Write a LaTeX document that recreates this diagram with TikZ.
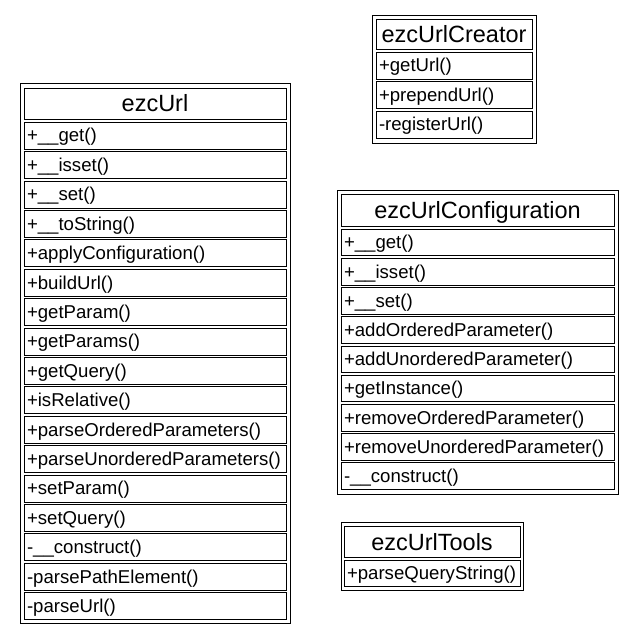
\documentclass[tikz,border=0pt]{standalone}
\usepackage{fontspec}
\setmainfont{Liberation Sans}
\begin{document}
\begin{tikzpicture}[x=1pt, y=-1pt]
\tikzset{ inner sep=0pt, outer sep=0pt, line width=1.2pt,
  outline/.style={draw, anchor=north west},
  classname/.style={draw, anchor=north west, text width=#1, align=center, inner xsep=3pt,
    minimum height=31pt, text height=21pt, text depth=4pt, font=\fontsize{23.5}{26}\selectfont},
  member/.style={draw, anchor=north west, text width=#1, align=left, inner xsep=3pt,
    minimum height=27pt, text height=17pt, text depth=4pt, font=\fontsize{18.6}{21}\selectfont},
}
\useasboundingbox (0,0) rectangle (634,636);

%% ezcUrl
\node [outline, minimum width=270pt, minimum height=540pt] (Uo) at (20,83) {};
\node [classname=256pt] (U) at (24,88) {ezcUrl};
\foreach \m [count=\i from 0] in {+\_\_get(), +\_\_isset(), +\_\_set(), +\_\_toString(),
  +applyConfiguration(), +buildUrl(), +getParam(), +getParams(), +getQuery(),
  +isRelative(), +parseOrderedParameters(), +parseUnorderedParameters(),
  +setParam(), +setQuery(), -\_\_construct(), -parsePathElement(), -parseUrl()}
  \node [member=256pt] (U\i) at (24,{122+29.4*\i}) {\m};

%% ezcUrlCreator
\node [outline, minimum width=164pt, minimum height=128pt] (Co) at (372,15) {};
\node [classname=150pt, minimum height=30pt] (C) at (376,19) {ezcUrlCreator};
\foreach \m [count=\i from 0] in {+getUrl(), +prependUrl(), -registerUrl()}
  \node [member=150pt] (C\i) at (376,{52+29.5*\i}) {\m};

%% ezcUrlConfiguration
\node [outline, minimum width=281pt, minimum height=304pt] (Ko) at (337,190) {};
\node [classname=267pt, minimum height=32pt] (K) at (341,194) {ezcUrlConfiguration};
\foreach \m [count=\i from 0] in {+\_\_get(), +\_\_isset(), +\_\_set(),
  +addOrderedParameter(), +addUnorderedParameter(), +getInstance(),
  +removeOrderedParameter(), +removeUnorderedParameter(), -\_\_construct()}
  \node [member=267pt, minimum height=26.6pt] (K\i) at (341,{229+29.2*\i}) {\m};

%% ezcUrlTools
\node [outline, minimum width=182pt, minimum height=68pt] (To) at (341,522) {};
\node [classname=170pt] (T) at (344,526) {ezcUrlTools};
\node [member=170pt, minimum height=26pt] (T0) at (344,560) {+parseQueryString()};
\end{tikzpicture}
\end{document}
